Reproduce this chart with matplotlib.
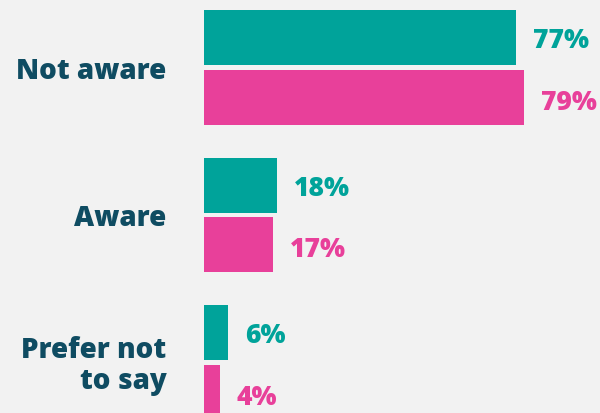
import matplotlib
matplotlib.use("Agg")
import matplotlib.pyplot as plt

categories = ["Not aware", "Aware", "Prefer not\nto say"]
series_a = [77, 18, 6]   # teal
series_b = [79, 17, 4]   # pink
labels_a = ["77%", "18%", "6%"]
labels_b = ["79%", "17%", "4%"]

TEAL = "#00A39A"
PINK = "#E8409A"
NAVY = "#0F4C62"
BG = "#F2F2F2"

fam = ["Open Sans", "DejaVu Sans"]

fig = plt.figure(figsize=(6.0, 4.14), dpi=100, facecolor=BG)
ax = fig.add_axes([204/600, 0, 396/600, 1])
ax.set_facecolor(BG)

pos = list(range(len(categories)))
off = 0.203
h = 0.373
ya = [p - off for p in pos]
yb = [p + off for p in pos]
ax.barh(ya, series_a, height=h, color=TEAL)
ax.barh(yb, series_b, height=h, color=PINK)

for y, v, t in zip(ya, series_a, labels_a):
    ax.annotate(t, (v, y), xytext=(12, -2), textcoords="offset points",
                ha="left", va="center", color=TEAL, fontsize=19,
                fontweight=800, family=fam)
for y, v, t in zip(yb, series_b, labels_b):
    ax.annotate(t, (v, y), xytext=(12, -3), textcoords="offset points",
                ha="left", va="center", color=PINK, fontsize=19,
                fontweight=800, family=fam)

for p, c in zip(pos, categories):
    ax.annotate(c, (0, p), xytext=(-27, -2), textcoords="offset points",
                ha="right", va="center", color=NAVY, fontsize=20,
                fontweight=800, family=fam, linespacing=1.1,
                multialignment="right", annotation_clip=False)

ax.set_xlim(0, 396/4.05)
ax.set_ylim(2.342, -0.464)
ax.axis("off")

fig.savefig("out.png", dpi=100, facecolor=BG)
